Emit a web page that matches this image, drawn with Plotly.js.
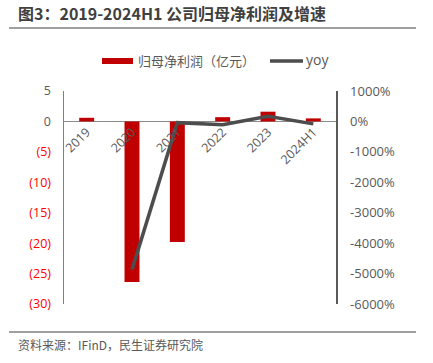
<!DOCTYPE html>
<html><head><meta charset="utf-8">
<script src="https://cdn.plot.ly/plotly-3.0.1.min.js"></script>
<style>html,body{margin:0;padding:0;background:#fff}#chart{width:433px;height:363px}</style>
</head><body><div id="chart"></div>
<script>
var categories = ['2019','2020','2021','2022','2023','2024H1'];
var netProfit = [0.6, -26.4, -19.8, 0.7, 1.6, 0.5];
var yoy = [null, -4870, -40, -110, 170, -80];
var leftTickVals = [5, 0, -5, -10, -15, -20, -25, -30];
var leftTickText = ['5','0','(5)','(10)','(15)','(20)','(25)','(30)'];
var rightTickVals = [1000, 0, -1000, -2000, -3000, -4000, -5000, -6000];
var rightTickText = ['1000%','0%','-1000%','-2000%','-3000%','-4000%','-5000%','-6000%'];
var legendNames = ['归母净利润（亿元）', 'yoy'];

var W = 433, H = 363, L = 64, R = 97, T = 91, B = 59;
var PW = W - L - R, PH = H - T - B;
function px(x){ return (x - L) / PW; }
function py(y){ return (H - B - y) / PH; }

var font = 'Open Sans, Noto Sans CJK SC, sans-serif';
var cjk = 'Noto Sans CJK SC, sans-serif';
var ticktextL = leftTickText.map(function(t, i){
  return leftTickVals[i] < 0 ? '<span style="color:#ff0000">' + t + '</span>' : t;
});

var data = [
  {type:'bar', x:categories, y:netProfit, marker:{color:'#c00000'}, width:0.33, name:legendNames[0], hoverinfo:'skip'},
  {type:'scatter', mode:'lines', x:categories, y:yoy, yaxis:'y2', line:{color:'#4d4d4d', width:3.5}, name:legendNames[1], connectgaps:false, hoverinfo:'skip'}
];

var layout = {
  width:W, height:H, margin:{l:L, r:R, t:T, b:B},
  paper_bgcolor:'#fff', plot_bgcolor:'#fff', showlegend:false,
  font:{family:font, color:'#595959', size:12},
  title:{text:'<b>图3：2019-2024H1 公司归母净利润及增速</b>', font:{family:cjk, size:16, color:'#404040'},
    xref:'container', yref:'container', x:18/W, xanchor:'left', y:1-14/H, yanchor:'middle'},
  xaxis:{type:'category', anchor:'free', position:30/35, tickangle:-45, showline:false, zeroline:false,
    showgrid:false, ticks:'', tickfont:{size:12.5, color:'#595959'}, range:[-0.5,5.5]},
  yaxis:{range:[-30,5], tickvals:leftTickVals, ticktext:ticktextL, showgrid:false, zeroline:true,
    zerolinecolor:'#8c8c8c', zerolinewidth:1.5, showline:true, linecolor:'#7f7f7f', linewidth:1.5,
    ticks:'', ticklabelstandoff:9, tickfont:{size:12.5, color:'#595959'}},
  yaxis2:{range:[-6000,1000], overlaying:'y', side:'right', tickvals:rightTickVals, ticktext:rightTickText,
    showgrid:false, zeroline:false, showline:true, linecolor:'#595959', linewidth:1.5, ticks:'',
    ticklabelstandoff:10, tickfont:{size:13, color:'#595959'}},
  shapes:[
    {type:'line', xref:'paper', yref:'paper', x0:px(9), x1:px(416), y0:py(28), y1:py(28), line:{color:'#7f7f7f', width:1.5}},
    {type:'line', xref:'paper', yref:'paper', x0:px(9), x1:px(416), y0:py(332), y1:py(332), line:{color:'#7f7f7f', width:1.5}},
    {type:'rect', xref:'paper', yref:'paper', x0:px(102), x1:px(133), y0:py(58), y1:py(64), fillcolor:'#c00000', line:{width:0}},
    {type:'line', xref:'paper', yref:'paper', x0:px(270), x1:px(303), y0:py(61), y1:py(61), line:{color:'#4d4d4d', width:3.5}}
  ],
  annotations:[
    {xref:'paper', yref:'paper', x:px(136), y:py(61), xanchor:'left', yanchor:'middle', showarrow:false,
      text:legendNames[0], font:{family:cjk, size:13, color:'#595959'}},
    {xref:'paper', yref:'paper', x:px(304), y:py(60), xanchor:'left', yanchor:'middle', showarrow:false,
      text:legendNames[1], font:{family:font, size:14, color:'#595959'}},
    {xref:'paper', yref:'paper', x:px(16), y:py(344), xanchor:'left', yanchor:'middle', showarrow:false,
      text:'资料来源：IFinD，民生证券研究院', font:{family:cjk, size:12, color:'#595959'}}
  ]
};
Plotly.newPlot('chart', data, layout, {displayModeBar:false, staticPlot:true});
</script></body></html>
